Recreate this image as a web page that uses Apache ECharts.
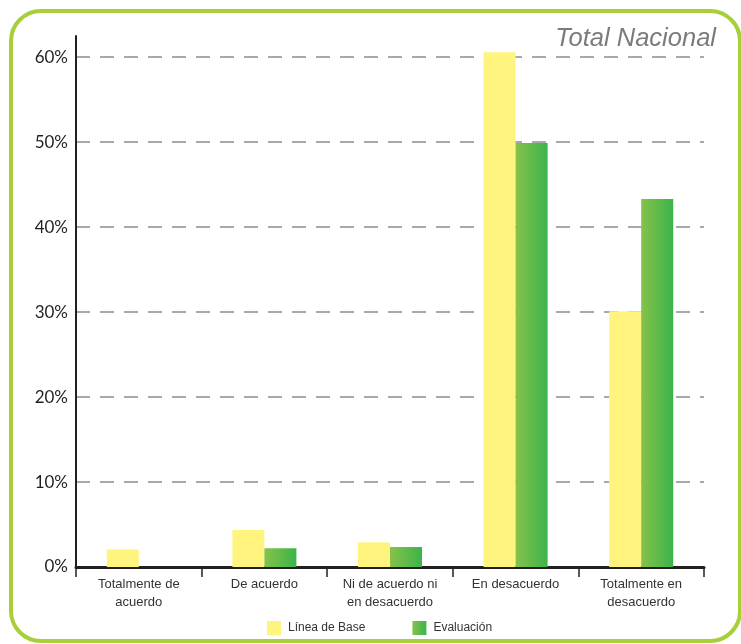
<!DOCTYPE html>
<html>
<head>
<meta charset="utf-8">
<script src="https://cdn.jsdelivr.net/npm/echarts@6/dist/echarts.min.js"></script>
<style>
  html, body { margin: 0; padding: 0; background: #ffffff; }
  #chart { width: 741px; height: 644px; }
</style>
</head>
<body>
<div id="chart"></div>
<script>
// Response categories (x axis)
const categories = [
  'Totalmente de\nacuerdo',
  'De acuerdo',
  'Ni de acuerdo ni\nen desacuerdo',
  'En desacuerdo',
  'Totalmente en\ndesacuerdo'
];
// Percentages per survey round
const lineaBase = [2.1, 4.35, 2.9, 60.6, 30.1];
const evaluacion = [null, 2.2, 2.35, 49.9, 43.3];
const seriesNames = ['Línea de Base', 'Evaluación'];
const titleText = 'Total Nacional';

const chart = echarts.init(document.getElementById('chart'), null, { renderer: 'canvas' });

const greenFill = new echarts.graphic.LinearGradient(0, 0, 1, 0, [
  { offset: 0, color: '#86c24a' },
  { offset: 1, color: '#3bb44a' }
]);

chart.setOption({
  backgroundColor: '#ffffff',
  animation: false,
  title: {
    text: titleText,
    right: 20,
    top: 21,
    textStyle: {
      fontFamily: 'Liberation Sans',
      fontStyle: 'italic',
      fontWeight: 'normal',
      fontSize: 25.5,
      color: '#7a7b7e'
    }
  },
  graphic: [{
    type: 'rect',
    silent: true,
    z: -1,
    shape: { x: 11, y: 11, width: 729, height: 630, r: 30 },
    style: { fill: 'none', stroke: '#a7cf3a', lineWidth: 4 }
  }],
  legend: {
    left: 262,
    top: 616,
    itemWidth: 14,
    itemHeight: 14,
    itemGap: 47,
    icon: 'rect',
    textStyle: { fontFamily: 'Liberation Sans', fontSize: 12, color: '#333333', padding: [0, 0, 0, 2] },
    data: seriesNames
  },
  grid: { left: 76, right: 37, top: 36, bottom: 77, containLabel: false },
  xAxis: {
    type: 'category',
    data: categories,
    boundaryGap: true,
    axisLine: { show: true, lineStyle: { color: '#231f20', width: 3 } },
    axisTick: { show: true, length: 10, lineStyle: { color: '#231f20', width: 1.5 } },
    axisLabel: {
      fontFamily: 'Liberation Sans',
      fontSize: 13,
      color: '#333333',
      lineHeight: 18,
      margin: 8,
      interval: 0
    },
    splitLine: { show: false }
  },
  yAxis: {
    type: 'value',
    min: 0,
    max: 62.5,
    interval: 10,
    axisLine: { show: true, lineStyle: { color: '#231f20', width: 2 } },
    axisTick: { show: false },
    axisLabel: {
      fontFamily: 'Lato',
      fontSize: 17,
      color: '#231f20',
      margin: 8,
      showMaxLabel: false,
      formatter: function (v) { return (v % 10 === 0) ? v + '%' : ''; }
    },
    splitLine: {
      show: true,
      showMinLine: false,
      showMaxLine: false,
      lineStyle: { color: '#a9a9ab', width: 2, type: [14, 10] }
    }
  },
  series: [
    {
      name: seriesNames[0],
      type: 'bar',
      data: lineaBase,
      barWidth: 32,
      barGap: '0%',
      itemStyle: { color: '#fff47e' }
    },
    {
      name: seriesNames[1],
      type: 'bar',
      data: evaluacion,
      barWidth: 32,
      barGap: '0%',
      itemStyle: { color: greenFill }
    }
  ]
});
</script>
</body>
</html>
